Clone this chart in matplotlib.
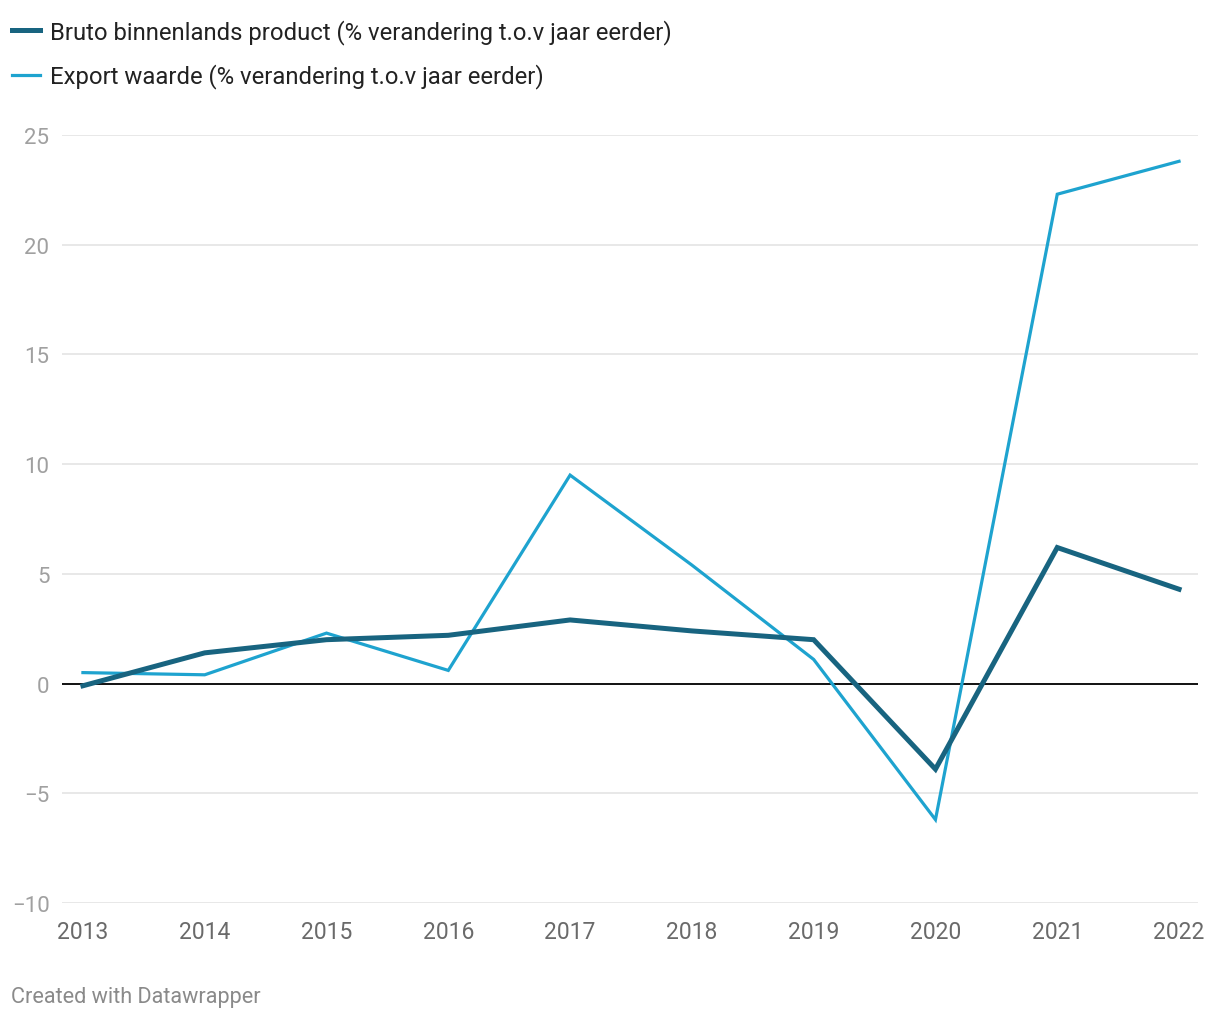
import matplotlib.pyplot as plt

plt.rcParams['font.family'] = ['Roboto', 'DejaVu Sans']

# data
jaren = [2013, 2014, 2015, 2016, 2017, 2018, 2019, 2020, 2021, 2022]
bbp = [-0.1, 1.4, 2.0, 2.2, 2.9, 2.4, 2.0, -3.9, 6.2, 4.3]
export = [0.5, 0.4, 2.3, 0.6, 9.5, 5.4, 1.1, -6.2, 22.3, 23.8]
y_ticks = [-10, -5, 0, 5, 10, 15, 20, 25]

label_bbp = "Bruto binnenlands product (% verandering t.o.v jaar eerder)"
label_export = "Export waarde (% verandering t.o.v jaar eerder)"

fig = plt.figure(figsize=(12.2, 10.2), dpi=100)
ax = fig.add_axes([0.0508, 0.1137, 0.9312, 0.753])

for y in y_ticks:
    if y != 0:
        ax.axhline(y, color="#e2e2e2", linewidth=1.1, zorder=0)
ax.axhline(0, color="#111111", linewidth=1.4, zorder=1)

ax.plot(jaren, export, color="#1ea3cf", linewidth=2.3, label=label_export, zorder=3,
        solid_joinstyle="miter")
ax.plot(jaren, bbp, color="#186480", linewidth=3.6, label=label_bbp, zorder=4,
        solid_joinstyle="miter")

ax.set_xlim(2013 - 0.172, 2022 + 0.156)
ax.set_ylim(-10, 25)
ax.set_xticks(jaren)
ax.set_xticklabels([str(j) for j in jaren])
ax.set_yticks(y_ticks)
ax.set_yticklabels([str(y).replace("-", "\u2212") for y in y_ticks])

for s in ax.spines.values():
    s.set_visible(False)
ax.tick_params(axis="y", length=0, pad=9, labelsize=16, labelcolor="#a0a0a0")
ax.tick_params(axis="x", length=0, pad=12, labelsize=16.5, labelcolor="#6a6a6a")

handles, labels = ax.get_legend_handles_labels()
fig.legend(handles[::-1], labels[::-1], loc="upper left", bbox_to_anchor=(0.002, 0.99),
           borderaxespad=0, frameon=False, fontsize=17.2, handlelength=1.17,
           handletextpad=0.42, labelspacing=0.83, labelcolor="#222222")

fig.text(0.009, 0.017, "Created with Datawrapper", fontsize=15.6, color="#8a8a8a")

fig.savefig("out.png", dpi=100)
